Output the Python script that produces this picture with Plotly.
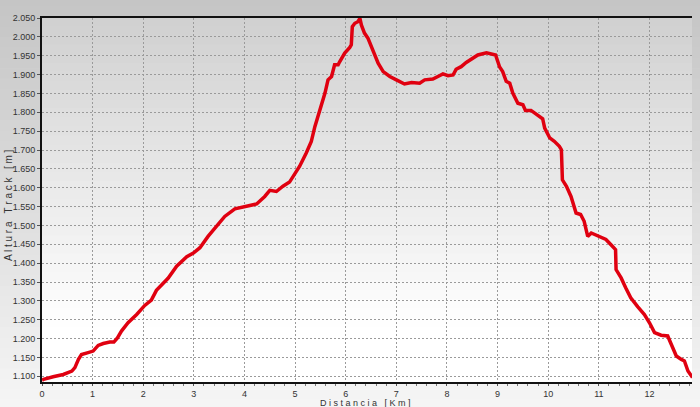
import plotly.graph_objects as go

dist_km = [0.00, 0.03, 0.22, 0.42, 0.59, 0.65, 0.72, 0.78, 0.91, 1.01, 1.11, 1.21, 1.34, 1.42,
           1.49, 1.57, 1.70, 1.87, 2.03, 2.16, 2.26, 2.39, 2.49, 2.66, 2.86, 2.99, 3.12, 3.28,
           3.45, 3.61, 3.81, 4.04, 4.24, 4.40, 4.50, 4.63, 4.76, 4.89, 4.99, 5.09, 5.22, 5.32,
           5.39, 5.45, 5.52, 5.59, 5.65, 5.72, 5.78, 5.85, 5.88, 5.98, 6.08, 6.11, 6.13, 6.18,
           6.24, 6.28, 6.31, 6.37, 6.44, 6.54, 6.64, 6.74, 6.87, 7.00, 7.16, 7.30, 7.46, 7.56,
           7.72, 7.85, 7.92, 8.02, 8.12, 8.18, 8.28, 8.38, 8.51, 8.61, 8.78, 8.91, 8.96, 9.04,
           9.10, 9.17, 9.24, 9.30, 9.40, 9.50, 9.55, 9.66, 9.76, 9.89, 9.93, 10.03, 10.12, 10.22,
           10.26, 10.28, 10.36, 10.45, 10.55, 10.64, 10.71, 10.78, 10.85, 11.01, 11.14, 11.24,
           11.33, 11.34, 11.44, 11.53, 11.63, 11.77, 11.90, 12.00, 12.10, 12.23, 12.36, 12.43,
           12.53, 12.63, 12.69, 12.76, 12.82, 12.85]
alt_m = [1090, 1092, 1099, 1105, 1114, 1123, 1145, 1158, 1163, 1167, 1182, 1187, 1191, 1191,
         1202, 1220, 1242, 1264, 1288, 1302, 1328, 1345, 1360, 1392, 1417, 1427, 1441, 1471,
         1498, 1524, 1544, 1551, 1557, 1577, 1593, 1590, 1604, 1615, 1635, 1657, 1692, 1723,
         1762, 1789, 1815, 1851, 1886, 1895, 1926, 1926, 1934, 1957, 1972, 1979, 2027, 2036,
         2040, 2049, 2031, 2010, 1996, 1965, 1930, 1908, 1895, 1886, 1875, 1879, 1877, 1886,
         1888, 1897, 1902, 1897, 1899, 1914, 1921, 1932, 1943, 1952, 1958, 1955, 1952, 1920,
         1908, 1882, 1877, 1851, 1824, 1820, 1805, 1805, 1796, 1783, 1758, 1732, 1723, 1710,
         1701, 1621, 1604, 1577, 1533, 1529, 1511, 1471, 1480, 1471, 1463, 1449,
         1436, 1383, 1361, 1335, 1308, 1284, 1264, 1242, 1216, 1209, 1207, 1185,
         1154, 1145, 1141, 1114, 1101, 1097]

x_title = "D i s t a n c i a \u00a0 [ K m ]"
y_title = "A l t u r a \u00a0 T r a c k \u00a0 [ m ]"

W, H = 700, 407
ML, MR, MT, MB = 42, 8, 18, 25
PW, PH = W - ML - MR, H - MT - MB


def lerp(c0, c1, t):
    return "rgb(%d,%d,%d)" % tuple(round(a + (b - a) * t) for a, b in zip(c0, c1))


shapes = []
# outer (paper) gradient
N = 40
ox0, ox1 = -ML / PW - 0.01, 1 + MR / PW + 0.01
oy_bot, oy_top = -MB / PH - 0.01, 1 + MT / PH + 0.01
for i in range(N):
    t0 = i / N
    t1 = (i + 1) / N
    ya = oy_top - (oy_top - oy_bot) * t0
    yb = oy_top - (oy_top - oy_bot) * t1
    shapes.append(dict(type="rect", xref="paper", yref="paper", x0=ox0, x1=ox1, y0=yb, y1=ya + 0.002,
                       fillcolor=lerp((196, 196, 196), (246, 246, 246), (t0 + t1) / 2),
                       line=dict(width=0), layer="below"))
# plot-area gradient
for i in range(N):
    t0 = i / N
    t1 = (i + 1) / N
    tt = min(1.0, ((t0 + t1) / 2) / 0.85)
    shapes.append(dict(type="rect", xref="paper", yref="paper", x0=0, x1=1, y0=1 - t1, y1=1 - t0 + 0.002,
                       fillcolor=lerp((208, 208, 208), (255, 255, 255), tt),
                       line=dict(width=0), layer="below"))

fig = go.Figure()
fig.add_trace(go.Scatter(x=dist_km, y=alt_m, mode="lines",
                         line=dict(color="#e00010", width=3.5), hoverinfo="x+y"))

tickfont = dict(family="Liberation Sans, Arial, sans-serif", size=9, color="#333333")
xtitlefont = dict(family="Liberation Sans, Arial, sans-serif", size=9, color="#333333")
ytitlefont = dict(family="Liberation Sans, Arial, sans-serif", size=10, color="#333333")

fig.update_layout(
    width=W, height=H,
    margin=dict(l=ML, r=MR, t=MT, b=MB),
    paper_bgcolor="#e6e6e6",
    plot_bgcolor="rgba(0,0,0,0)",
    separators=",.",
    showlegend=False,
    shapes=shapes,
    xaxis=dict(range=[0, 12.84], dtick=1, tick0=0, showgrid=True, gridcolor="#9a9a9a",
               griddash="2px,2px", gridwidth=1, zeroline=False,
               showline=True, linecolor="#111111", linewidth=2, mirror=True,
               ticks="outside", ticklen=2, tickcolor="#555555", tickfont=tickfont,
               minor=dict(dtick=0.2, ticks="outside", ticklen=2, tickcolor="#777777", showgrid=False),
               automargin=False),
    yaxis=dict(range=[1085, 2050], dtick=50, tick0=1100, tickformat=",d",
               showgrid=True, gridcolor="#9a9a9a", griddash="2px,2px", gridwidth=1, zeroline=False,
               showline=True, linecolor="#111111", linewidth=2,
               ticks="outside", ticklen=3, tickcolor="#555555", tickfont=tickfont,
               automargin=False),
    annotations=[
        dict(text=x_title, xref="paper", yref="paper", x=(365 - ML) / PW, y=(H - MB - 402.5) / PH,
             xanchor="center", yanchor="middle", showarrow=False, font=xtitlefont),
        dict(text=y_title, xref="paper", yref="paper", x=(9 - ML) / PW, y=(H - MB - 205) / PH,
             xanchor="center", yanchor="middle", showarrow=False, textangle=-90, font=ytitlefont),
    ],
)

fig.write_html("out.html", config={"displayModeBar": False},
               post_script="document.body.style.margin='0';document.body.style.overflow='hidden';")
